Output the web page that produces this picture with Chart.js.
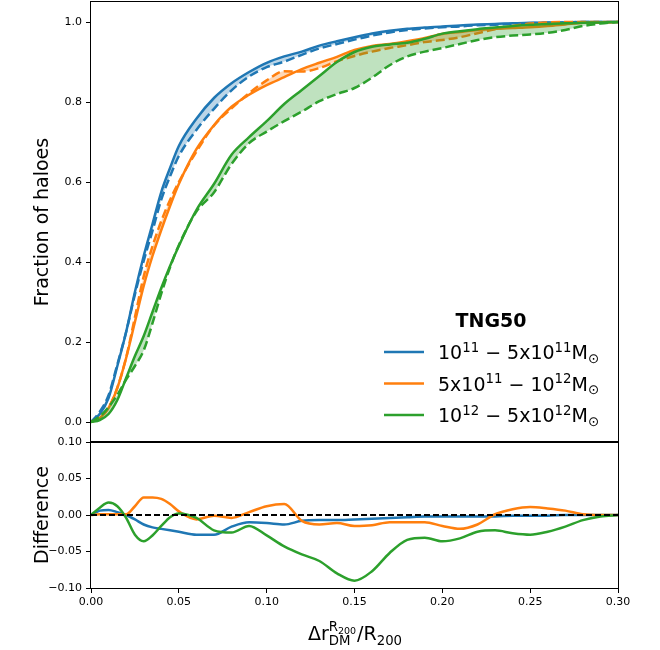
<!DOCTYPE html>
<html>
<head>
<meta charset="utf-8">
<script src="https://cdn.jsdelivr.net/npm/chart.js@4.4.1/dist/chart.umd.min.js"></script>
<style>
body { margin: 0; background: #fff; }
#wrap { position: relative; width: 660px; height: 650px; }
canvas { position: absolute; left: 0; }
#top { top: 0; }
#bottom { top: 430px; }
</style>
</head>
<body>
<div id="wrap">
<canvas id="top" width="660" height="443"></canvas>
<canvas id="bottom" width="660" height="220"></canvas>
</div>
<script>
// separation values (x axis), shared by every curve
const xs = [0, 0.005, 0.01, 0.015, 0.02, 0.025, 0.03, 0.035, 0.04, 0.045,
  0.05, 0.06, 0.07, 0.08, 0.09, 0.10, 0.11, 0.12, 0.13, 0.14,
  0.15, 0.16, 0.17, 0.18, 0.19, 0.20, 0.21, 0.22, 0.23, 0.24,
  0.25, 0.26, 0.27, 0.28, 0.29, 0.30];

// cumulative fractions, solid and dashed per mass bin
const blueSolid = [0, 0.02, 0.06, 0.14, 0.225, 0.325, 0.415, 0.495, 0.575, 0.635,
  0.69, 0.758, 0.81, 0.847, 0.875, 0.898, 0.914, 0.926, 0.941, 0.952,
  0.962, 0.971, 0.978, 0.983, 0.986, 0.989, 0.991, 0.994, 0.995, 0.997,
  0.998, 0.999, 0.999, 1.0, 1.0, 1.0];
const blueDashed = [0, 0.026, 0.067, 0.144, 0.225, 0.319, 0.403, 0.478, 0.556, 0.614,
  0.665, 0.73, 0.783, 0.829, 0.864, 0.887, 0.901, 0.918, 0.934, 0.945,
  0.956, 0.966, 0.974, 0.98, 0.984, 0.987, 0.989, 0.992, 0.993, 0.996,
  0.997, 0.998, 0.999, 1.0, 1.0, 1.0];
const orangeSolid = [0, 0.01, 0.035, 0.085, 0.16, 0.25, 0.34, 0.415, 0.48, 0.54,
  0.595, 0.682, 0.742, 0.788, 0.818, 0.842, 0.862, 0.882, 0.898, 0.913,
  0.93, 0.94, 0.945, 0.952, 0.96, 0.97, 0.975, 0.98, 0.983, 0.985,
  0.987, 0.99, 0.994, 0.998, 0.999, 1.0];
const orangeDashed = [0, 0.011, 0.036, 0.086, 0.161, 0.262, 0.364, 0.439, 0.502, 0.555,
  0.60, 0.676, 0.741, 0.784, 0.822, 0.854, 0.877, 0.876, 0.885, 0.902,
  0.915, 0.926, 0.935, 0.942, 0.95, 0.955, 0.962, 0.972, 0.982, 0.99,
  0.996, 0.999, 1.0, 1.0, 1.0, 1.0];
const greenSolid = [0, 0.005, 0.02, 0.055, 0.11, 0.165, 0.215, 0.275, 0.335, 0.39,
  0.44, 0.53, 0.595, 0.668, 0.712, 0.752, 0.795, 0.83, 0.865, 0.90,
  0.925, 0.938, 0.944, 0.948, 0.958, 0.971, 0.977, 0.982, 0.986, 0.99,
  0.993, 0.995, 0.997, 0.998, 0.999, 1.0];
const greenDashed = [0, 0.014, 0.037, 0.068, 0.106, 0.14, 0.179, 0.247, 0.321, 0.387,
  0.442, 0.526, 0.574, 0.645, 0.697, 0.726, 0.752, 0.776, 0.802, 0.82,
  0.835, 0.861, 0.892, 0.914, 0.926, 0.935, 0.945, 0.955, 0.962, 0.966,
  0.969, 0.973, 0.98, 0.99, 0.996, 1.0];

// lower panel: dashed minus solid
const blueDiff = [0, 0.006, 0.007, 0.004, 0, -0.006, -0.013, -0.017, -0.019, -0.021,
  -0.023, -0.027, -0.027, -0.016, -0.010, -0.011, -0.013, -0.008, -0.007, -0.007,
  -0.006, -0.005, -0.004, -0.003, -0.002, -0.002, -0.002, -0.002, -0.002, -0.001,
  -0.001, -0.001, 0, 0, 0, 0];
const orangeDiff = [0, 0.001, 0.001, 0.001, 0.001, 0.012, 0.024, 0.024, 0.022, 0.015,
  0.005, -0.006, -0.001, -0.004, 0.004, 0.012, 0.015, -0.008, -0.013, -0.011,
  -0.015, -0.014, -0.010, -0.010, -0.010, -0.015, -0.019, -0.013, 0.001, 0.008,
  0.011, 0.009, 0.006, 0.001, 0, 0];
const greenDiff = [0, 0.010, 0.017, 0.012, -0.004, -0.027, -0.036, -0.028, -0.015, -0.003,
  0.002, -0.004, -0.021, -0.024, -0.015, -0.028, -0.043, -0.054, -0.063, -0.080,
  -0.090, -0.077, -0.052, -0.034, -0.031, -0.036, -0.032, -0.023, -0.021, -0.025,
  -0.027, -0.023, -0.016, -0.007, -0.002, 0];
const zeroX = [0, 0.3];
const zeroY = [0, 0];

const topTicks = [0, 0.2, 0.4, 0.6, 0.8, 1.0];
const diffTicks = [-0.1, -0.05, 0, 0.05, 0.1];
const xTicks = [0, 0.05, 0.1, 0.15, 0.2, 0.25, 0.3];

const legendTitle = 'TNG50';
const legendLabels = ['10^{11} − 5x10^{11}M_{⊙}', '5x10^{11} − 10^{12}M_{⊙}', '10^{12} − 5x10^{12}M_{⊙}'];
const colors = ['#1f77b4', '#ff7f0e', '#2ca02c'];
const fills = ['rgba(31,119,180,0.3)', 'rgba(255,127,14,0.3)', 'rgba(44,160,44,0.3)'];

const FONT = '"DejaVu Sans", sans-serif';
const pts = (x, y) => x.map((v, i) => ({x: v, y: y[i]}));
const minus = s => s.replace('-', '\u2212');

function lineSet(data, color, dashed, order, fill) {
  return {
    data: data, borderColor: color, borderWidth: 2.5, pointRadius: 0,
    borderDash: dashed ? [9, 4] : [], cubicInterpolationMode: 'monotone',
    fill: fill ? {target: '+1'} : false, backgroundColor: fill || 'transparent',
    order: order
  };
}

// draw a string like 10^{11}M_{x} with raised / lowered parts
function drawRich(ctx, str, x, y, size) {
  const re = /(\^|_)\{([^}]*)\}|[^^_]+/g;
  let m;
  while ((m = re.exec(str))) {
    const txt = m[1] ? m[2] : m[0];
    const s = m[1] ? size * 0.7 : size;
    const dy = m[1] === '^' ? -size * 0.38 : m[1] === '_' ? size * 0.2 : 0;
    ctx.font = s + 'px ' + FONT;
    ctx.fillText(txt, x, y + dy);
    x += ctx.measureText(txt).width;
  }
}

const frame = {
  id: 'frame',
  afterDatasetsDraw(chart) {
    const {ctx, chartArea: a} = chart;
    ctx.save();
    ctx.strokeStyle = '#000';
    ctx.lineWidth = 1;
    ctx.strokeRect(a.left - 0.5, a.top - 0.5, a.right - a.left + 1, a.bottom - a.top + 1);
    ctx.restore();
  }
};

const legendBox = {
  id: 'legendBox',
  afterDraw(chart) {
    const ctx = chart.ctx;
    ctx.save();
    ctx.fillStyle = '#000';
    ctx.textAlign = 'center';
    ctx.textBaseline = 'middle';
    ctx.font = 'bold 19px ' + FONT;
    ctx.fillText(legendTitle, 491, 322);
    ctx.textAlign = 'left';
    ctx.textBaseline = 'alphabetic';
    legendLabels.forEach((lab, i) => {
      const y = 352 + i * 31.5;
      ctx.strokeStyle = colors[i];
      ctx.lineWidth = 2.5;
      ctx.beginPath();
      ctx.moveTo(384, y);
      ctx.lineTo(424, y);
      ctx.stroke();
      drawRich(ctx, lab, 438, y + 7, 19);
    });
    ctx.restore();
  }
};

const xTitle = {
  id: 'xTitle',
  afterDraw(chart) {
    const {ctx, chartArea: a} = chart;
    const base = 210;
    const big = '19px ' + FONT, mid = '13.3px ' + FONT, small = '9.5px ' + FONT;
    ctx.save();
    ctx.fillStyle = '#000';
    ctx.textBaseline = 'alphabetic';
    const w = (f, t) => { ctx.font = f; return ctx.measureText(t).width; };
    const w1 = w(big, '\u0394r');
    const wR = w(mid, 'R');
    const wSup = wR + w(small, '200');
    const wSub = w(mid, 'DM');
    const wStack = Math.max(wSup, wSub);
    const w2 = w(big, '/R');
    const w3 = w(mid, '200');
    let x = (a.left + a.right) / 2 - (w1 + wStack + w2 + w3) / 2;
    ctx.font = big; ctx.fillText('\u0394r', x, base); x += w1;
    ctx.font = mid; ctx.fillText('R', x, base - 9);
    ctx.font = small; ctx.fillText('200', x + wR, base - 6);
    ctx.font = mid; ctx.fillText('DM', x, base + 5);
    x += wStack + 1;
    ctx.font = big; ctx.fillText('/R', x, base); x += w2;
    ctx.font = mid; ctx.fillText('200', x, base + 5);
    ctx.restore();
  }
};

const tickFont = {family: FONT, size: 11};
const titleFont = {family: FONT, size: 19};

function yAxis(min, max, ticks, title, digits) {
  return {
    type: 'linear', min: min, max: max,
    afterBuildTicks: s => { s.ticks = ticks.map(v => ({value: v})); },
    afterFit: s => { s.width = 91; s.paddingTop = 0; s.paddingBottom = 0; },
    ticks: {color: '#000', font: tickFont, padding: 4, callback: v => minus(Number(v).toFixed(digits))},
    grid: {display: true, drawOnChartArea: false, color: '#000', tickLength: 5, tickWidth: 1},
    border: {display: false},
    title: {display: true, text: title, color: '#000', font: titleFont, padding: {top: 32, bottom: 0}}
  };
}

new Chart(document.getElementById('top'), {
  type: 'line',
  data: {
    datasets: [
      lineSet(pts(xs, blueSolid), colors[0], false, 6, fills[0]),
      lineSet(pts(xs, blueDashed), colors[0], true, 5),
      lineSet(pts(xs, orangeSolid), colors[1], false, 4, fills[1]),
      lineSet(pts(xs, orangeDashed), colors[1], true, 3),
      lineSet(pts(xs, greenSolid), colors[2], false, 2, fills[2]),
      lineSet(pts(xs, greenDashed), colors[2], true, 1)
    ]
  },
  options: {
    responsive: false,
    devicePixelRatio: 1,
    animation: false,
    layout: {padding: {left: 0, right: 42, top: 2, bottom: 1}},
    plugins: {legend: {display: false}, tooltip: {enabled: false}},
    scales: {
      x: {type: 'linear', min: 0, max: 0.3, display: false},
      y: yAxis(-0.05, 1.05, topTicks, 'Fraction of haloes', 1)
    }
  },
  plugins: [frame, legendBox]
});

new Chart(document.getElementById('bottom'), {
  type: 'line',
  data: {
    datasets: [
      {data: pts(zeroX, zeroY), borderColor: '#000', borderWidth: 2, borderDash: [6, 3], pointRadius: 0, order: 0},
      lineSet(pts(xs, blueDiff), colors[0], false, 3),
      lineSet(pts(xs, orangeDiff), colors[1], false, 2),
      lineSet(pts(xs, greenDiff), colors[2], false, 1)
    ]
  },
  options: {
    responsive: false,
    devicePixelRatio: 1,
    animation: false,
    layout: {padding: {left: 0, right: 42, top: 12, bottom: 0}},
    plugins: {legend: {display: false}, tooltip: {enabled: false}},
    scales: {
      x: {
        type: 'linear', min: 0, max: 0.3,
        afterBuildTicks: s => { s.ticks = xTicks.map(v => ({value: v})); },
        afterFit: s => { s.height = 62; },
        ticks: {color: '#000', font: tickFont, padding: 3, maxRotation: 0, autoSkip: false,
          callback: v => Number(v).toFixed(2)},
        grid: {display: true, drawOnChartArea: false, color: '#000', tickLength: 5, tickWidth: 1},
        border: {display: false}
      },
      y: yAxis(-0.1, 0.1, diffTicks, 'Difference', 2)
    }
  },
  plugins: [frame, xTitle]
});
</script>
</body>
</html>
